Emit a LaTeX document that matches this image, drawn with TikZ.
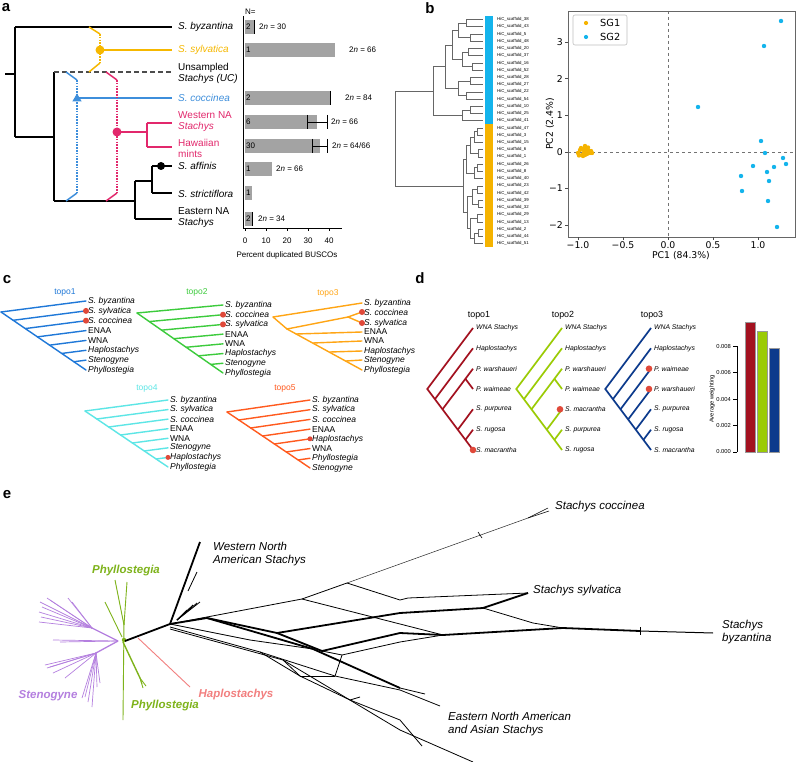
\documentclass[tikz,border=0pt]{standalone}
\usepackage{fontspec}
\setmainfont{Liberation Sans}
\newfontfamily\dejavu{DejaVu Sans}
\usetikzlibrary{calc}
\definecolor{ayel}{HTML}{F6B800}
\definecolor{ablue}{HTML}{3D8EDB}
\definecolor{amag}{HTML}{E2286C}
\definecolor{bargray}{HTML}{A3A3A3}
\definecolor{sgone}{HTML}{F5B300}
\definecolor{sgtwo}{HTML}{14B4EC}
\definecolor{tone}{HTML}{1F78D8}
\definecolor{ttwo}{HTML}{3CCB3C}
\definecolor{tthree}{HTML}{FFA514}
\definecolor{tfour}{HTML}{5DE6E6}
\definecolor{tfive}{HTML}{FF5A1E}
\definecolor{reddot}{HTML}{E0493A}
\definecolor{dred}{HTML}{A3111F}
\definecolor{dlime}{HTML}{9BCB05}
\definecolor{dnavy}{HTML}{0C3A8C}
\definecolor{epurp}{HTML}{B47FDF}
\definecolor{egreen}{HTML}{7EB31B}
\definecolor{esalm}{HTML}{F27F7F}
\newcommand\fs[1]{\fontsize{#1}{#1}\selectfont}
\newcommand\djoin[5]{\draw (#3,#2) -- (#1,#2) -- (#1,#4) -- (#5,#4);}
\newcommand\catertree[6]{%
  \foreach \j in {0,...,6} {
    \draw[#1] ({#2+(#4-#2)*\j/7},{#3+(#5+7*#6-#3)*\j/7}) -- (#4,{#5+#6*\j});
  }
  \draw[#1] (#2,#3) -- (#4,{#5+7*#6});
}
\tikzset{
  plab/.style={inner sep=0pt, font=\fs{15}\bfseries},
  alab/.style={anchor=west, inner sep=0pt, align=left, font=\fs{10}},
  barlab/.style={anchor=west, inner sep=0pt, font=\fs{8}},
  bline/.style={line width=1.5pt},
  dots/.style={line width=1.5pt, dash pattern=on 1.6pt off 1.2pt},
  clab/.style={anchor=west, inner sep=0pt, font=\fs{8.5}\itshape},
  cplain/.style={anchor=west, inner sep=0pt, font=\fs{8.5}},
  ctop/.style={inner sep=0pt, font=\fs{8.5}},
  ctree/.style={line width=1.4pt, line cap=round},
  dlab/.style={anchor=west, inner sep=0pt, font=\fs{6.8}\itshape},
  dtree/.style={line width=1.7pt},
  elab/.style={anchor=west, inner sep=0pt, align=left, font=\fs{11.5}\itshape},
  ebold/.style={inner sep=0pt, font=\fs{11.5}\bfseries\itshape},
  net/.style={line width=0.8pt, line join=round},
  netb/.style={line width=1.8pt, line join=round},
  pcaax/.style={inner sep=0pt, font=\dejavu\fs{9.3}},
}
\begin{document}
\begin{tikzpicture}[x=1pt,y=-1pt]
\useasboundingbox (0,0) rectangle (800,762);
\fill[white] (0,0) rectangle (800,762);

% ================= panel a =================
\node[plab] (pa) at (6,8) {a};
\begin{scope}[bline]
\draw (5,74) -- (15,74);
\draw (15,27) -- (15,137);
\draw (15,27) -- (172,27);
\draw (15,137) -- (54,137);
\draw (54,72) -- (54,201);
\draw (54,201) -- (135,201);
\draw (135,181) -- (135,219);
\draw (135,219) -- (172,219);
\draw (135,181) -- (152,181);
\draw (152,166) -- (152,193);
\draw (152,166) -- (172,166);
\draw (152,193) -- (172,193);
\end{scope}
\draw[line width=1.3pt, black!70, dash pattern=on 5pt off 3pt] (54,72) -- (173,72);
\fill (161,166) circle (4);
% yellow
\draw[bline, ayel] (100,50) -- (172,50);
\draw[bline, ayel] (89,27) -- (100,34);
\draw[dots, ayel] (100,34) -- (100,63);
\draw[bline, ayel] (100,63) -- (89,72);
\fill[ayel] (100,50) circle (4.5);
% blue
\draw[bline, ablue] (77,98) -- (172,98);
\draw[bline, ablue] (66,72) -- (77,80);
\draw[dots, ablue] (77,80) -- (77,193);
\draw[bline, ablue] (77,193) -- (66,201);
\fill[ablue] (72.3,101.5) -- (81.7,101.5) -- (77,93.5) -- cycle;
% magenta
\draw[bline, amag] (106,72) -- (117,80);
\draw[dots, amag] (117,80) -- (117,193);
\draw[bline, amag] (117,193) -- (106,201);
\draw[bline, amag] (117,132) -- (147,132);
\draw[bline, amag] (147,123) -- (147,147);
\draw[bline, amag] (147,123) -- (172,123);
\draw[bline, amag] (147,147) -- (172,147);
\fill[amag] (117,132) circle (4.5);
% labels
\node[alab] (la1) at (178,27) {\textit{S. byzantina}};
\node[alab, text=ayel] (la2) at (178,50) {\textit{S. sylvatica}};
\node[alab] (la3) at (178,73) {Unsampled\\[1pt]\textit{Stachys (UC)}};
\node[alab, text=ablue] (la4) at (178,98) {\textit{S. coccinea}};
\node[alab, text=amag] (la5) at (178,122) {Western NA\\[1pt]\textit{Stachys}};
\node[alab, text=amag] (la6) at (178,148) {Hawaiian\\[1pt]mints};
\node[alab] (la7) at (178,166) {\textit{S. affinis}};
\node[alab] (la8) at (178,194) {\textit{S. strictiflora}};
\node[alab] (la9) at (178,218) {Eastern NA\\[1pt]\textit{Stachys}};

% bar chart a
\node[barlab] (nn) at (245,12) {N=};
\draw[line width=0.6pt] (243,16) -- (243,228) -- (342,228);
\foreach \v/\t in {0/0,10/10,20/20,30/30,40/40} {
  \draw[line width=0.6pt] ({245+2.1*\v},228) -- ({245+2.1*\v},231);
  \node[inner sep=0pt, font=\fs{8}] at ({245+2.1*\v},241) {\t};
}
\node[inner sep=0pt, font=\fs{8}] (xlab) at (287,255) {Percent duplicated BUSCOs};
\foreach \y/\e/\n in {27/255/2, 50/335/1, 98/331/2, 122/317/6, 146/320/30, 169/272/1, 193/252/1, 219/253/2} {
  \fill[bargray] (245,\y-7) rectangle (\e,\y+7);
  \node[barlab] at (246,\y) {\n};
}
\draw[line width=0.6pt] (254,20) -- (254,34);
\draw[line width=1pt] (330,91) -- (330,105);
\draw[line width=0.6pt] (307,115) -- (307,129);
\draw[line width=0.6pt] (307,122) -- (327,122);
\draw[line width=0.6pt] (327,115) -- (327,129);
\draw[line width=0.6pt] (312,139) -- (312,153);
\draw[line width=0.6pt] (312,146) -- (327,146);
\draw[line width=0.6pt] (327,139) -- (327,153);
\draw[line width=0.8pt] (252,212) -- (252,226);
\node[barlab] at (259,27) {2\textit{n} = 30};
\node[barlab] at (349,50) {2\textit{n} = 66};
\node[barlab] at (345,98) {2\textit{n} = 84};
\node[barlab] at (331,122) {2\textit{n} = 66};
\node[barlab] at (332,146) {2\textit{n} = 64/66};
\node[barlab] at (276,169) {2\textit{n} = 66};
\node[barlab] at (258,219) {2\textit{n} = 34};

% ================= panel b =================
\node[plab] (pb) at (430,8) {b};
\begin{scope}[line width=0.5pt, black!60]
\djoin{466}{19.5}{483}{26.7}{483}
\djoin{470}{34.0}{483}{41.2}{483}
\djoin{458}{23.1}{466}{37.6}{470}
\djoin{468}{48.4}{483}{55.7}{483}
\djoin{472}{62.9}{483}{70.1}{483}
\djoin{462}{52.05}{468}{66.5}{472}
\djoin{452}{30.35}{458}{59.3}{462}
\djoin{470}{77.3}{483}{84.6}{483}
\djoin{466}{91.8}{483}{99.0}{483}
\djoin{458}{80.95}{470}{95.4}{466}
\djoin{445}{44.8}{452}{88.2}{458}
\djoin{470}{106.3}{483}{113.5}{483}
\djoin{462}{109.9}{470}{120.7}{483}
\djoin{433}{66.5}{445}{115.3}{462}
\djoin{477}{127.9}{483}{135.2}{483}
\djoin{474}{131.55}{477}{142.4}{483}
\djoin{478}{149.6}{483}{156.9}{483}
\djoin{470}{136.95}{474}{153.25}{478}
\djoin{477}{164.1}{483}{171.3}{483}
\djoin{474}{167.7}{477}{178.6}{483}
\djoin{466}{145.1}{470}{173.15}{474}
\djoin{477}{185.8}{483}{193.0}{483}
\djoin{478}{200.3}{483}{207.5}{483}
\djoin{472}{189.4}{477}{203.9}{478}
\djoin{477}{214.7}{483}{221.9}{483}
\djoin{478}{229.2}{483}{236.4}{483}
\djoin{474}{232.8}{478}{243.6}{483}
\djoin{470}{218.3}{477}{238.2}{474}
\djoin{467}{196.65}{472}{228.25}{470}
\djoin{463}{159.1}{466}{212.45}{467}
\djoin{395}{90.9}{433}{185.8}{463}
\end{scope}
\fill[sgtwo] (485,16) rectangle (493,124.3);
\fill[sgone] (485,124.3) rectangle (493,247);
\foreach \s [count=\i from 0] in {38,43,5,48,20,37,16,52,28,27,22,54,10,25,41,47,3,15,6,1,26,8,40,23,42,39,32,29,13,2,44,51} {
  \node[anchor=west, inner sep=0pt, font=\fs{4.3}] at (497,{19.5+7.23*\i}) {HiC\_scaffold\_\s};
}
% PCA
\draw[black!55, dashed, line width=0.6pt] (668,11) -- (668,237);
\draw[black!55, dashed, line width=0.6pt] (568,152) -- (795,152);
\draw[black!60, line width=0.7pt] (568,11) rectangle (795,237);
\foreach \v/\t in {3/3,2/2,1/1,0/0,-1/−1,-2/−2} {
  \draw[black!70, line width=0.6pt] (565,{152-36.6*\v}) -- (568,{152-36.6*\v});
  \node[pcaax, anchor=east] at (563,{152-36.6*\v}) {\t};
}
\foreach \v/\t in {-1/−1.0,-0.5/−0.5,0/0.0,0.5/0.5,1/1.0} {
  \draw[black!70, line width=0.6pt] ({668+90*\v},237) -- ({668+90*\v},240);
  \node[pcaax] at ({668+90*\v},245) {\t};
}
\node[pcaax] (pc1) at (681,256) {PC1 (84.3\%)};
\node[pcaax, rotate=90] (pc2) at (550,124) {PC2 (2.4\%)};
\draw[black!25, rounded corners=2pt, line width=0.6pt] (573,15) rectangle (627,45);
\fill[sgone] (586,23) circle (2.1);
\fill[sgtwo] (586,37) circle (2.1);
\node[pcaax, anchor=west, font=\dejavu\fs{9.8}] (sg1) at (600,23) {SG1};
\node[pcaax, anchor=west, font=\dejavu\fs{9.8}] (sg2) at (600,37) {SG2};
\foreach \px/\py in {781/21,764/46,698/107,761/141,765/153,783/158,786/164,753/166,774/167,767/172,741/176,769/181,742/191,768/201,777/227} {
  \fill[sgtwo] (\px,\py) circle (2.2);
}
\foreach \px/\py in {580/150,585/146,588/147.5,590/153,582/155,579/155.5,584/152.5,587/154,592/153,581/148,583/149,586/150,589/151,583/156,578/153,585/155,591/151} {
  \fill[sgone] (\px,\py) circle (2.2);
}

% ================= panel c =================
\node[plab] (pc) at (7,280) {c};
\node[ctop, text=tone] (t1) at (65,292) {topo1};
\catertree{ctree, tone}{1}{312}{86}{301}{9.86}
\node[clab] at (88,301) {S. byzantina};
\node[clab] at (88,310.9) {S. sylvatica};
\node[clab] at (88,320.7) {S. coccinea};
\node[cplain] at (88,330.6) {ENAA};
\node[cplain] at (88,340.4) {WNA};
\node[clab] at (88,350.3) {Haplostachys};
\node[clab] at (88,360.2) {Stenogyne};
\node[clab] at (88,370) {Phyllostegia};
\fill[reddot] (86,310.9) circle (3);
\fill[reddot] (86,320.7) circle (3);
\node[ctop, text=ttwo] (t2) at (197,292) {topo2};
\catertree{ctree, ttwo}{137}{313}{223}{305}{9.71}
\node[clab] at (225,305) {S. byzantina};
\node[clab] at (225,314.7) {S. coccinea};
\node[clab] at (225,324.4) {S. sylvatica};
\node[cplain] at (225,334.1) {ENAA};
\node[cplain] at (225,343.8) {WNA};
\node[clab] at (225,353.6) {Haplostachys};
\node[clab] at (225,363.3) {Stenogyne};
\node[clab] at (225,373) {Phyllostegia};
\fill[reddot] (223,314.7) circle (3);
\fill[reddot] (223,324.4) circle (3);
\node[ctop, text=tthree] (t3) at (328,293) {topo3};
\begin{scope}[ctree, tthree]
\draw (273,317) -- (362,303);
\draw (273,317) -- (287,329);
\draw (287,329) -- (348,317);
\draw (348,317) -- (362,312);
\draw (348,317) -- (362,323);
\draw (287,329) -- (362,370);
\draw (296,334) -- (362,332);
\draw (313,343) -- (362,341);
\draw (330,352) -- (362,351);
\draw (346,361) -- (362,360);
\end{scope}
\node[clab] at (364,303) {S. byzantina};
\node[clab] at (364,312) {S. coccinea};
\node[clab] at (364,323) {S. sylvatica};
\node[cplain] at (364,332) {ENAA};
\node[cplain] at (364,341) {WNA};
\node[clab] at (364,351) {Haplostachys};
\node[clab] at (364,360) {Stenogyne};
\node[clab] at (364,370) {Phyllostegia};
\fill[reddot] (362,312) circle (3);
\fill[reddot] (362,323) circle (3);
\node[ctop, text=tfour] (t4) at (147,388) {topo4};
\catertree{ctree, tfour}{85}{411}{168}{400}{9.57}
\node[clab] at (170,400) {S. byzantina};
\node[clab] at (170,409.6) {S. sylvatica};
\node[clab] at (170,419.1) {S. coccinea};
\node[cplain] at (170,428.7) {ENAA};
\node[cplain] at (170,438.3) {WNA};
\node[clab] at (170,447.9) {Stenogyne};
\node[clab] at (170,457.4) {Haplostachys};
\node[clab] at (170,467) {Phyllostegia};
\fill[reddot] (168,457.4) circle (2.5);
\node[ctop, text=tfive] (t5) at (285,388) {topo5};
\catertree{ctree, tfive}{227}{412}{310}{400}{9.71}
\node[clab] at (312,400) {S. byzantina};
\node[clab] at (312,409.7) {S. sylvatica};
\node[clab] at (312,419.4) {S. coccinea};
\node[cplain] at (312,429.1) {ENAA};
\node[clab] at (312,438.8) {Haplostachys};
\node[cplain] at (312,448.6) {WNA};
\node[clab] at (312,458.3) {Phyllostegia};
\node[clab] at (312,468) {Stenogyne};
\fill[reddot] (310,438.8) circle (2.5);

% ================= panel d =================
\node[plab] (pd) at (420,278) {d};
\node[inner sep=0pt, font=\fs{8.9}] (d1) at (479,315) {topo1};
\node[inner sep=0pt, font=\fs{8.9}] (d2) at (563,315) {topo2};
\node[inner sep=0pt, font=\fs{8.9}] (d3) at (652,315) {topo3};
\begin{scope}[dtree, dred]
\draw (473,328) -- (427.25,389) -- (473,450);
\draw (434.9,399.2) -- (473,348.3);
\draw (442.5,409.3) -- (473,368.7);
\draw (465.4,378.8) -- (473,389);
\draw (457.75,429.7) -- (473,409.3);
\draw (465.4,439.8) -- (473,429.7);
\end{scope}
\fill[reddot] (473,450) circle (3.3);
\node[dlab] at (476,328) {WNA Stachys};
\node[dlab] at (476,348.3) {Haplostachys};
\node[dlab] at (476,368.7) {P. warshaueri};
\node[dlab] at (476,389) {P. waimeae};
\node[dlab] at (476,409.3) {S. purpurea};
\node[dlab] at (476,429.7) {S. rugosa};
\node[dlab] at (476,450) {S. macrantha};
\begin{scope}[dtree, dlime]
\draw (562,328) -- (516.25,389) -- (562,450);
\draw (523.9,399.2) -- (562,348.3);
\draw (531.5,409.3) -- (562,368.7);
\draw (554.4,378.8) -- (562,389);
\draw (546.75,429.7) -- (562,409.3);
\draw (554.4,439.8) -- (562,429.7);
\end{scope}
\fill[reddot] (560,409.3) circle (3.3);
\node[dlab] at (565,328) {WNA Stachys};
\node[dlab] at (565,348.3) {Haplostachys};
\node[dlab] at (565,368.7) {P. warshaueri};
\node[dlab] at (565,389) {P. waimeae};
\node[dlab] at (565,409.3) {S. macrantha};
\node[dlab] at (565,429.7) {S. purpurea};
\node[dlab] at (565,450) {S. rugosa};
\begin{scope}[dtree, dnavy]
\draw (651,328) -- (605.25,389) -- (651,450);
\draw (612.9,399.2) -- (651,348.3);
\draw (620.5,409.3) -- (651,368.7);
\draw (628.1,419.5) -- (651,389);
\draw (635.75,429.7) -- (651,409.3);
\draw (643.4,439.8) -- (651,429.7);
\end{scope}
\fill[reddot] (649,368.7) circle (3.3);
\fill[reddot] (649,389) circle (3.3);
\node[dlab] at (654,328) {WNA Stachys};
\node[dlab] at (654,348.3) {Haplostachys};
\node[dlab] at (654,368.7) {P. waimeae};
\node[dlab] at (654,389) {P. warshaueri};
\node[dlab] at (654,409.3) {S. purpurea};
\node[dlab] at (654,429.7) {S. rugosa};
\node[dlab] at (654,450) {S. macrantha};
\draw[line width=0.5pt] (737,346) -- (737,452);
\foreach \v/\t in {0/0.000,0.002/0.002,0.004/0.004,0.006/0.006,0.008/0.008} {
  \draw[line width=0.5pt] (733,{452-13250*\v}) -- (737,{452-13250*\v});
  \node[inner sep=0pt, anchor=east, font=\fs{5.8}] at (731,{452-13250*\v}) {\t};
}
\node[inner sep=0pt, rotate=90, font=\fs{5.8}] (aw) at (712,399) {Average weighting};
\filldraw[fill=dred, draw=black!40, line width=0.4pt] (745,322) rectangle (755,452);
\filldraw[fill=dlime, draw=black!40, line width=0.4pt] (757,331) rectangle (767,452);
\filldraw[fill=dnavy, draw=black!40, line width=0.4pt] (769,348) rectangle (779,452);

% ================= panel e =================
\node[plab] (pe) at (7,495) {e};
\begin{scope}[epurp, line width=0.7pt]
\coordinate (sh) at (118,641);
\coordinate (st) at (92,628);
\coordinate (sb) at (96,653);
\draw[line width=1.3pt] (sh) -- (st);
\draw[line width=1.3pt] (sh) -- (sb);
\foreach \ex/\ey in {40/602,42/607,39/612,41/617,39/622,47/598,50/600,68/598,72/602} {
  \draw (st) -- (\ex,\ey);
}
\draw (sh) -- (53,640);
\draw (sh) -- (60,642);
\foreach \ex/\ey in {45/665,47/668,50/667,53/673,65/678,82/698,85/697,88/702,92/707,97/687,100/683} {
  \draw (sb) -- (\ex,\ey);
}
\end{scope}
\begin{scope}[egreen, line width=0.9pt]
\draw (124,620) -- (123,720);
\draw (124,625) -- (115,580);
\draw (124,625) -- (127,582);
\draw (122,637) -- (105,602);
\draw[line width=1.4pt] (123,642) -- (140,678);
\draw (140,678) -- (143,688);
\draw (140,678) -- (146,686);
\draw (140,678) -- (142,684);
\fill (124,640) circle (2.2);
\end{scope}
\draw[esalm, line width=0.9pt] (138,638) -- (190,687);
\begin{scope}[black]
\draw[netb] (125,641) -- (170,624);
\draw[netb] (170,624) -- (200,542);
\draw[net] (188,591) -- (197,572);
\foreach \ex/\ey in {200/602,197/603,193/605,192/607,187/610} {
  \draw[net] (177,620) -- (\ex,\ey);
}
\end{scope}
% splits network
\coordinate (h) at (170,624);
\coordinate (u1) at (302,599);
\coordinate (u2) at (347,583);
\coordinate (m1) at (207,618);
\coordinate (m2) at (277,633);
\coordinate (n1) at (322,651);
\coordinate (n2) at (342,655);
\coordinate (n3) at (313,649);
\coordinate (w1) at (483,608);
\coordinate (w2) at (528,593);
\coordinate (w3) at (443,635);
\coordinate (w4) at (563,628);
\coordinate (cc) at (528,518);
\begin{scope}[black]
\draw[net] (h) -- (u1) -- (u2);
\draw[line width=0.5pt, black!85] (u2) -- (cc);
\draw[line width=0.5pt] (cc) -- (548,508);
\draw[line width=0.5pt] (cc) -- (549,511);
\draw[line width=0.6pt] (478,532) -- (482,538);
\draw[net] (u1) -- (400,624) -- (w3);
\draw[net] (u2) -- (400,600) -- (408,598) -- (w2);
\draw[netb] (h) -- (m1) -- (m2) -- (400,613) -- (w1) -- (w2);
\draw[net] (w1) -- (533,623) -- (w4);
\draw[netb] (m2) -- (n1) -- (400,633) -- (w3) -- (w4) -- (640,631);
\draw[line width=1pt] (640,631) -- (713,633);
\draw[line width=0.6pt] (640,627) -- (640,635);
\draw[net] (n1) -- (n2) -- (400,642) -- (w3);
\draw[net] (h) -- (250,640) -- (n3);
\draw[netb] (m1) -- (n3) -- (400,688);
\draw[net] (400,688) -- (425,694);
\draw[net] (170,627) -- (260,652) -- (335,676) -- (400,690) -- (440,706);
\draw[net] (170,629) -- (283,660) -- (400,730) -- (473,762);
\draw[net] (260,652) -- (300,676) -- (350,700) -- (400,720) -- (422,746);
\draw[net] (n2) -- (335,676);
\draw[net] (300,676) -- (335,676);
\draw[net] (283,660) -- (300,676);
\draw[net] (350,700) -- (360,697);
\end{scope}
\node[elab] (ewna) at (213,554) {Western North\\[2pt]American Stachys};
\node[ebold, text=egreen] (ep1) at (126,571) {Phyllostegia};
\node[ebold, text=epurp] (est) at (48,696) {Stenogyne};
\node[ebold, text=egreen] (ep2) at (165,706) {Phyllostegia};
\node[ebold, text=esalm] (eha) at (236,695) {Haplostachys};
\node[elab] (eco) at (555,507) {Stachys coccinea};
\node[elab] (esy) at (533,591) {Stachys sylvatica};
\node[elab] (eby) at (722,632) {Stachys\\[2pt]byzantina};
\node[elab] (een) at (448,724) {Eastern North American\\[2pt]and Asian Stachys};
\end{tikzpicture}
\end{document}
